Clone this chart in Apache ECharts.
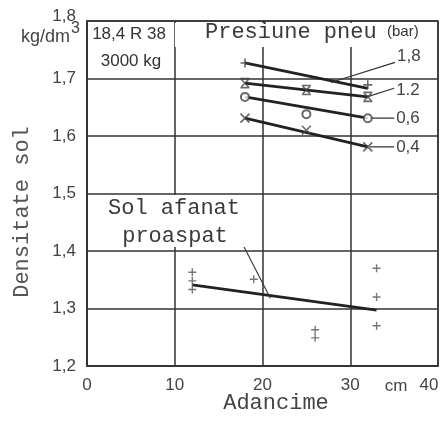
<!DOCTYPE html>
<html><head><meta charset="utf-8">
<style>html,body{margin:0;padding:0;background:#fff}#c{width:448px;height:423px}</style>
<script src="https://cdn.jsdelivr.net/npm/echarts@6/dist/echarts.min.js"></script>
</head><body><div id="c"></div>
<script>
// ---- data ----
const xTicks = [0, 10, 20, 30, 40];
const yTicks = [1.2, 1.3, 1.4, 1.5, 1.6, 1.7, 1.8];
// pressure groups (bar)
const depthPneu = [18, 25, 32];
const p18Depth = [18, 32];
const p18Pts = [1.727, 1.689];
const p12Pts = [1.692, 1.680, 1.668];
const p06Pts = [1.668, 1.638, 1.631];
const p04Pts = [1.631, 1.610, 1.581];
// fitted lines
const lineDepth = [18, 32];
const p18Line = [1.727, 1.683];
const p12Line = [1.692, 1.668];
const p06Line = [1.668, 1.631];
const p04Line = [1.631, 1.581];
// label leaders
const leaderNames = ['1,8', '1.2', '0,6', '0,4'];
const leaderX = [[27.8, 35.1], [31.9, 35.0], [32.2, 35.0], [32.2, 35.0]];
const leaderY = [[1.693, 1.728], [1.668, 1.683], [1.631, 1.631], [1.581, 1.581]];
// freshly loosened soil
const solDepth = [12, 12, 12, 19, 26, 26, 33, 33, 33];
const solVal = [1.363, 1.348, 1.333, 1.351, 1.263, 1.249, 1.370, 1.320, 1.270];
const solLineDepth = [12, 33];
const solLine = [1.341, 1.297];
const solLeaderX = [17.8, 20.9];
const solLeaderY = [1.410, 1.318];

const pairs = (xs, ys) => xs.map((x, i) => [x, ys[i]]);
const PLUS = 'path://M5,0L5,10M0,5L10,5';
const CROSS = 'path://M0,0L10,10M10,0L0,10';
const STAR = 'path://M0,0L10,0M0,10L10,10M1,1L9,9M9,1L1,9';
const sans = 'Liberation Sans';

const chart = echarts.init(document.getElementById('c'), null, {renderer: 'canvas'});

function fitLine(name, ys) {
  return {type: 'line', name, data: pairs(lineDepth, ys), symbol: 'none', silent: true,
    lineStyle: {color: '#222', width: 2.8}, z: 3};
}
function markers(name, xs, ys, sym, size) {
  const empty = sym === 'emptyCircle';
  return {type: 'scatter', name, data: pairs(xs, ys), symbol: sym, symbolSize: size || 9, silent: true,
    itemStyle: {color: empty ? '#444' : 'none', borderColor: '#444', borderWidth: 1.6}, z: 4};
}

const series = [
  fitLine('1,8', p18Line), fitLine('1,2', p12Line), fitLine('0,6', p06Line), fitLine('0,4', p04Line),
  markers('m18', p18Depth, p18Pts, PLUS),
  markers('m12', depthPneu, p12Pts, STAR),
  markers('m06', depthPneu, p06Pts, 'emptyCircle', 8),
  markers('m04', depthPneu, p04Pts, CROSS),
  {type: 'line', name: 'sol', data: pairs(solLineDepth, solLine), symbol: 'none', silent: true,
    lineStyle: {color: '#222', width: 2.8}, z: 3},
  {type: 'scatter', name: 'solPts', data: pairs(solDepth, solVal), symbol: PLUS, symbolSize: 8, silent: true,
    itemStyle: {color: 'none', borderColor: '#555', borderWidth: 1.4}, z: 4},
  {type: 'line', name: 'solLeader', data: pairs(solLeaderX, solLeaderY), symbol: 'none', silent: true,
    lineStyle: {color: '#333', width: 1.1}, z: 3}
];
leaderNames.forEach((n, i) => {
  series.push({type: 'line', name: n, data: pairs(leaderX[i], leaderY[i]), symbol: 'none', silent: true,
    lineStyle: {color: '#333', width: 1.2}, z: 3,
    endLabel: {show: true, formatter: n, distance: 2, fontSize: 17, fontFamily: sans, color: '#444',
      offset: i === 0 ? [0, -6] : (i === 1 ? [0, 2] : [0, 0])}});
});

chart.setOption({
  animation: false,
  backgroundColor: '#fff',
  grid: {left: 87, right: 10, top: 21, bottom: 57, show: true, borderColor: '#333', borderWidth: 1.5},
  xAxis: {type: 'value', min: 0, max: 40, interval: 10,
    axisLine: {show: true, lineStyle: {color: '#333', width: 1.5}}, axisTick: {show: false},
    splitLine: {show: true, lineStyle: {color: '#333', width: 1.5}},
    axisLabel: {fontSize: 17, fontFamily: sans, color: '#444', margin: 11,
      formatter: v => v === 40 ? '{r|40}' : String(v),
      rich: {r: {fontSize: 17, fontFamily: sans, color: '#444', padding: [0, 18, 0, 0]}}}},
  yAxis: {type: 'value', min: 1.2, max: 1.8, interval: 0.1,
    axisLine: {show: true, lineStyle: {color: '#333', width: 1.5}}, axisTick: {show: false},
    splitLine: {show: true, lineStyle: {color: '#333', width: 1.5}},
    axisLabel: {fontSize: 17, fontFamily: sans, color: '#444', margin: 11,
      formatter: v => {
        const s = (Math.round(v * 10) / 10).toFixed(1).replace('.', ',');
        return Math.abs(v - 1.8) < 1e-6 ? '{t|' + s + '}' : s;
      },
      rich: {t: {fontSize: 17, fontFamily: sans, color: '#444', padding: [0, 0, 10, 0]}}}},
  series,
  graphic: [
    {type: 'rect', shape: {x: 175, y: 23, width: 262, height: 24}, style: {fill: '#fff'}, z: 5, silent: true},
    {type: 'rect', shape: {x: 89, y: 195, width: 168, height: 52}, style: {fill: '#fff'}, z: 5, silent: true},
    {type: 'text', x: 205, y: 32, z: 6, style: {text: 'Presiune pneu', font: '22px "Liberation Mono"', fill: '#3a3a3a', textAlign: 'left', textVerticalAlign: 'middle'}},
    {type: 'text', x: 387, y: 32, z: 6, style: {text: '(bar)', font: '15px "Liberation Sans"', fill: '#333', textAlign: 'left', textVerticalAlign: 'middle'}},
    {type: 'text', x: 129, y: 34, z: 6, style: {text: '18,4 R 38', font: '17px "Liberation Sans"', fill: '#333', textAlign: 'center', textVerticalAlign: 'middle'}},
    {type: 'text', x: 131, y: 61, z: 6, style: {text: '3000 kg', font: '17px "Liberation Sans"', fill: '#333', textAlign: 'center', textVerticalAlign: 'middle'}},
    {type: 'text', x: 174, y: 208, z: 6, style: {text: 'Sol afanat', font: '22px "Liberation Mono"', fill: '#3a3a3a', textAlign: 'center', textVerticalAlign: 'middle'}},
    {type: 'text', x: 175, y: 236, z: 6, style: {text: 'proaspat', font: '22px "Liberation Mono"', fill: '#3a3a3a', textAlign: 'center', textVerticalAlign: 'middle'}},
    {type: 'text', x: 22, y: 212, rotation: Math.PI / 2, z: 6, style: {text: 'Densitate sol', font: '22px "Liberation Mono"', fill: '#555', textAlign: 'center', textVerticalAlign: 'middle'}},
    {type: 'text', x: 276, y: 403, z: 6, style: {text: 'Adancime', font: '22px "Liberation Mono"', fill: '#444', textAlign: 'center', textVerticalAlign: 'middle'}},
    {type: 'text', x: 70, y: 37, z: 6, style: {text: 'kg/dm', font: '18px "Liberation Sans"', fill: '#444', textAlign: 'right', textVerticalAlign: 'middle'}},
    {type: 'text', x: 71, y: 29, z: 6, style: {text: '3', font: '16px "Liberation Sans"', fill: '#444', textAlign: 'left', textVerticalAlign: 'middle'}},
    {type: 'text', x: 396, y: 386, z: 6, style: {text: 'cm', font: '17px "Liberation Sans"', fill: '#444', textAlign: 'center', textVerticalAlign: 'middle'}}
  ]
});
</script></body></html>
